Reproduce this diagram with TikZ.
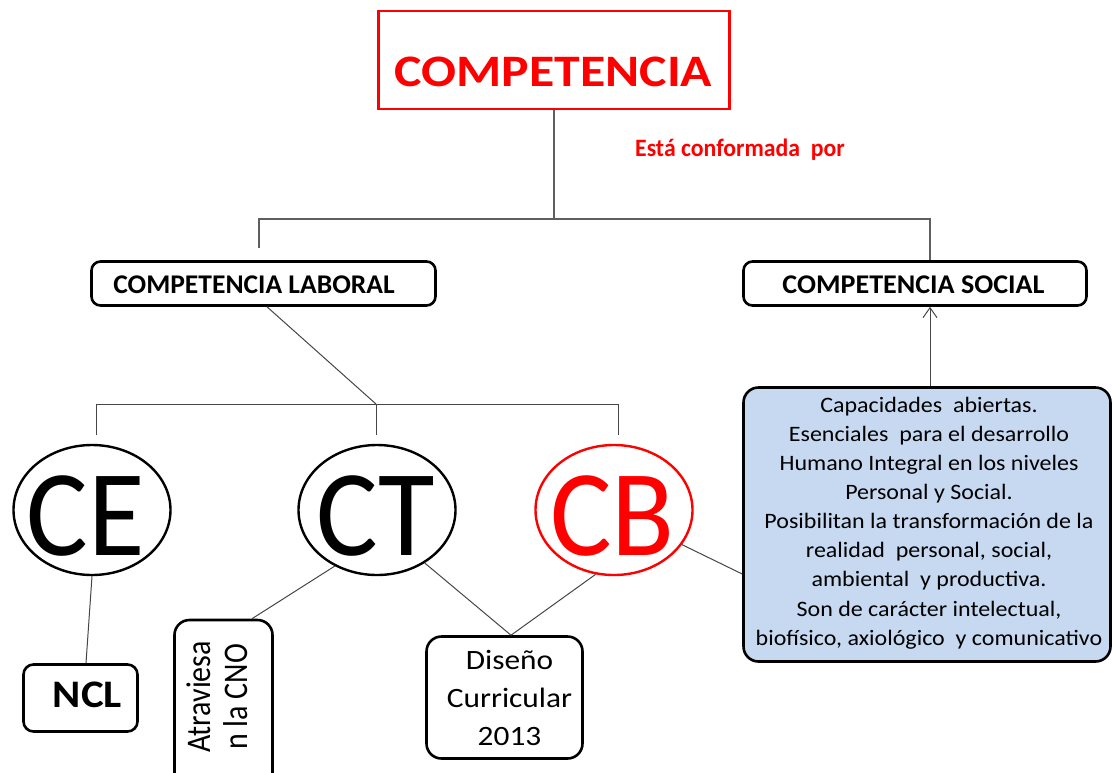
\documentclass[tikz,border=0pt]{standalone}
\usepackage{fontspec}
\usepackage{graphicx}
\setmainfont{Carlito}
\usetikzlibrary{arrows.meta,shapes.geometric}
\definecolor{cred}{RGB}{255,0,0}
\definecolor{cblue}{RGB}{198,217,241}
\definecolor{cgray}{RGB}{70,70,70}
\definecolor{cgray2}{RGB}{95,95,95}
\newcommand{\hs}[2]{\scalebox{#1}[1]{#2}}
\newcommand{\fs}[2]{\fontsize{#1}{#2}\selectfont}
\begin{document}
\begin{tikzpicture}[x=1pt,y=-1pt,
  conn/.style={draw=cgray, line width=1pt},
  topconn/.style={draw=cgray2, line width=1.6pt},
  rbox/.style={draw=black, line width=2.6pt, rounded corners=9pt, inner sep=0pt, fill=white},
  ebox/.style={ellipse, draw=black, line width=2.4pt, minimum width=157pt, minimum height=130pt, inner sep=0pt},
  lbl/.style={inner sep=0pt, anchor=base},
]
\useasboundingbox[fill=white] (0,0) rectangle (1113,772);

% top box
\node[draw=cred, line width=2.4pt, inner sep=0pt, minimum width=351pt, minimum height=98pt] (comp) at (554,60) {};
\node[lbl, text=cred] (tcomp) at (553.5,86) {\hs{1.15}{\fs{45}{45}\bfseries COMPETENCIA}};
\node[lbl, text=cred] (testa) at (740,156) {\hs{0.95}{\fs{25}{25}\bfseries Está conformada\ \ por}};

% second level boxes
\node[rbox, minimum width=344pt, minimum height=44pt] (lab) at (263.5,283.5) {};
\node[lbl] (tlab) at (254,293) {\hs{1.02}{\fs{27}{27}\bfseries COMPETENCIA LABORAL}};
\node[rbox, minimum width=343pt, minimum height=44pt] (soc) at (915,283.5) {};
\node[lbl] (tsoc) at (913.5,293) {\hs{1.04}{\fs{27}{27}\bfseries COMPETENCIA SOCIAL}};

% ellipses
\node[ebox] (ce) at (92,510) {};
\node[lbl] (tce) at (86,555) {\hs{0.94}{\fs{123}{123}CE}};
\node[ebox] (ct) at (377,510) {};
\node[lbl] (tct) at (375.5,555) {\hs{0.94}{\fs{123}{123}CT}};
\node[ebox, draw=cred] (cb) at (614,510) {};
\node[lbl, text=cred] (tcb) at (612.5,555) {\hs{0.94}{\fs{123}{123}CB}};

% bottom boxes
\node[rbox, rounded corners=10pt, minimum width=114pt, minimum height=67pt] (ncl) at (80.5,698) {};
\node[lbl] (tncl) at (87.5,707) {\hs{1.1}{\fs{39}{39}\bfseries NCL}};
\node[rbox, rounded corners=15pt, minimum width=98pt, minimum height=172pt] (atr) at (223.5,706) {};
\node[lbl, rotate=90] (tatr) at (210,697) {\scalebox{1}[1.15]{\fs{30}{33}\begin{tabular}[t]{@{}c@{}}Atraviesa\\n la CNO\end{tabular}}};
\node[rbox, rounded corners=15pt, minimum width=156pt, minimum height=122pt] (dis) at (504.5,697.5) {};
\node[lbl] (tdis) at (509.5,669) {\hs{1.12}{\fs{28}{38}\begin{tabular}[t]{@{}c@{}}Diseño\\Curricular\\2013\end{tabular}}};

% info box
\node[rbox, rounded corners=15pt, fill=cblue, minimum width=367pt, minimum height=274pt] (info) at (927,524.5) {};
\node[lbl] (tinfo) at (929,412) {\hs{1.09}{\fs{22}{29.15}\begin{tabular}[t]{@{}c@{}}
Capacidades\ \ abiertas.\\
Esenciales\ \ para el desarrollo\\
Humano Integral en los niveles\\
Personal y Social.\\
Posibilitan la transformación de la\\
realidad\ \ personal, social,\\
ambiental\ \ y productiva.\\
Son de carácter intelectual,\\
biofísico, axiológico\ \ y comunicativo\end{tabular}}};

% connectors (top)
\coordinate (hl) at (259,219);
\coordinate (hr) at (930,219);
\coordinate (lend) at (259,248);
\draw[topconn] (comp.south) -- (comp.south |- hl);
\draw[topconn] (lend) -- (hl) -- (hr) -- (soc.north -| hr);

% laboral branches
\coordinate (bj) at (376,404);
\coordinate (bl) at (96,404);
\coordinate (br) at (618,404);
\coordinate (bce) at (96,435);
\coordinate (bct) at (376,435);
\coordinate (bcb) at (618,435);
\draw[conn] ([xshift=3.5pt]lab.south) -- (bj);
\draw[conn] (bce) -- (bl) -- (br) -- (bcb);
\draw[conn] (bj) -- (bct);

% lower connectors
\draw[conn] (ce.south) -- ([xshift=5.5pt]ncl.north);
\draw[conn] (ct.-127) -- ([xshift=28.5pt]atr.north);
\draw[conn] (ct.-48) -- ([xshift=6.5pt]dis.north);
\draw[conn] (cb.-106) -- ([xshift=6.5pt]dis.north);
\draw[conn] (cb.-27) -- ([yshift=-49.5pt]info.west);
\draw[conn, -{Straight Barb[length=10pt,width=14pt]}] (info.north -| hr) -- (soc.south -| hr);
\end{tikzpicture}
\end{document}
